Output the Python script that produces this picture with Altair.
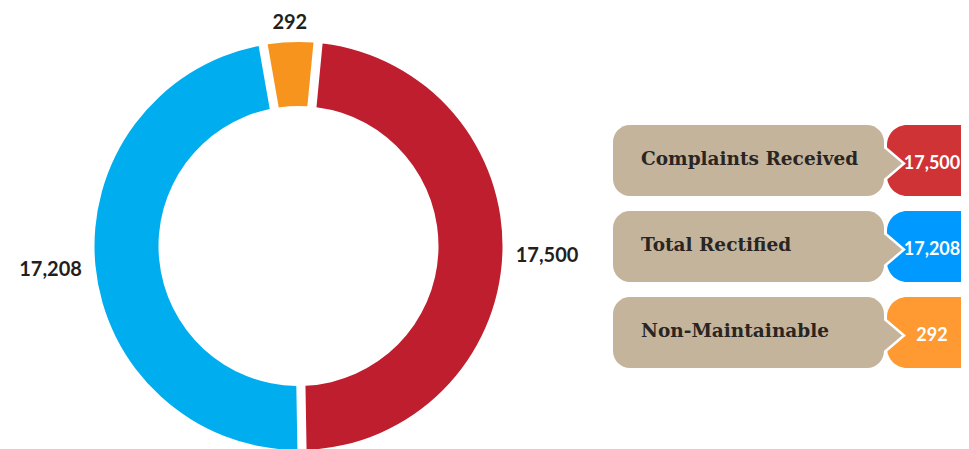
import math
import altair as alt
import pandas as pd

# ---- data ----
categories = ["Complaints Received", "Total Rectified", "Non-Maintainable"]
values = [17500, 17208, 292]
# share of the ring each slice occupies as drawn in the picture (percent)
ring_share_pct = [48.2, 47.5, 4.3]
order_idx = [0, 1, 2]

slice_colors = ["#BE1E2D", "#00AEEF", "#F7941D"]
box_colors = ["#D03335", "#0099FF", "#FF9A33"]
TAN = "#C4B49B"

df = pd.DataFrame({
    "category": categories,
    "value": values,
    "share": ring_share_pct,
    "order": order_idx,
})

START = math.radians(5.5)
CX, CY = 290.5, 238

theta_scale = alt.Scale(range=[START, START + 2 * math.pi])
color_scale = alt.Scale(domain=categories, range=slice_colors)

ring = alt.Chart(df).mark_arc(innerRadius=140, outerRadius=204, padAngle=0.037).encode(
    theta=alt.Theta("share:Q", stack=True, scale=theta_scale),
    order=alt.Order("order:Q"),
    color=alt.Color("category:N", scale=color_scale, legend=None),
    x=alt.value(CX),
    y=alt.value(CY),
)

# value labels placed outside the ring at each slice's middle angle
ring_labels = (
    alt.Chart(df)
    .transform_joinaggregate(total="sum(share)")
    .transform_window(cum="sum(share)", sort=[alt.SortField("order")], frame=[None, 0])
    .transform_calculate(
        midv="datum.cum - datum.share/2",
        txt="format(datum.value, ',')",
    )
    .transform_calculate(mid=f"datum.midv/datum.total*2*PI + {START}")
    .transform_calculate(
        lr="213 + 9*abs(cos(datum.mid)) + 5.9*length(datum.txt)*abs(sin(datum.mid))"
    )
    .mark_text(font="Lato", fontWeight="bold", fontSize=20, color="#231F20")
    .encode(
        theta=alt.Theta("midv:Q", stack=None, scale=theta_scale),
        radius=alt.Radius("lr:Q", scale=None),
        text=alt.Text("txt:N"),
        x=alt.value(CX),
        y=alt.value(CY),
    )
)

ydef = alt.Y(
    "category:N",
    scale=alt.Scale(domain=categories, range=[109.5, 367.5],
                    paddingInner=15 / 86, paddingOuter=7.5 / 86),
    axis=None,
)

panel = alt.Chart(df)

colored = panel.mark_rect(cornerRadius=20, clip=True).encode(
    y=ydef,
    x=alt.value(879),
    x2=alt.value(1000),
    fill=alt.Fill("category:N", scale=alt.Scale(domain=categories, range=box_colors), legend=None),
)

pointer = panel.mark_point(
    shape="M -1 -2.25 L 2 0.3 L -1 2.85 Z", size=400, filled=True,
    fill=TAN, stroke="white", strokeWidth=2.5, opacity=1, fillOpacity=1,
).encode(y=ydef, x=alt.value(876))

tanbox = panel.mark_rect(cornerRadius=17, color=TAN).encode(
    y=ydef, x=alt.value(605), x2=alt.value(876)
)

label_txt = panel.mark_text(
    align="left", font="DejaVu Serif", fontWeight="bold", fontSize=18.5,
    color="#2A2522", dy=-2,
).encode(y=ydef, x=alt.value(633), text="category:N")

value_txt = panel.mark_text(
    align="center", font="Lato", fontWeight="bold", fontSize=18, color="white", dy=3.5,
).encode(y=ydef, x=alt.value(924), text=alt.Text("value:Q", format=","))

chart = (
    alt.layer(ring, ring_labels, colored, pointer, tanbox, label_txt, value_txt)
    .properties(width=953, height=441, padding=0,
                autosize=alt.AutoSizeParams(type="none"))
    .configure_view(stroke=None)
)

chart.save("out.html", embed_options={"renderer": "svg", "actions": False})
